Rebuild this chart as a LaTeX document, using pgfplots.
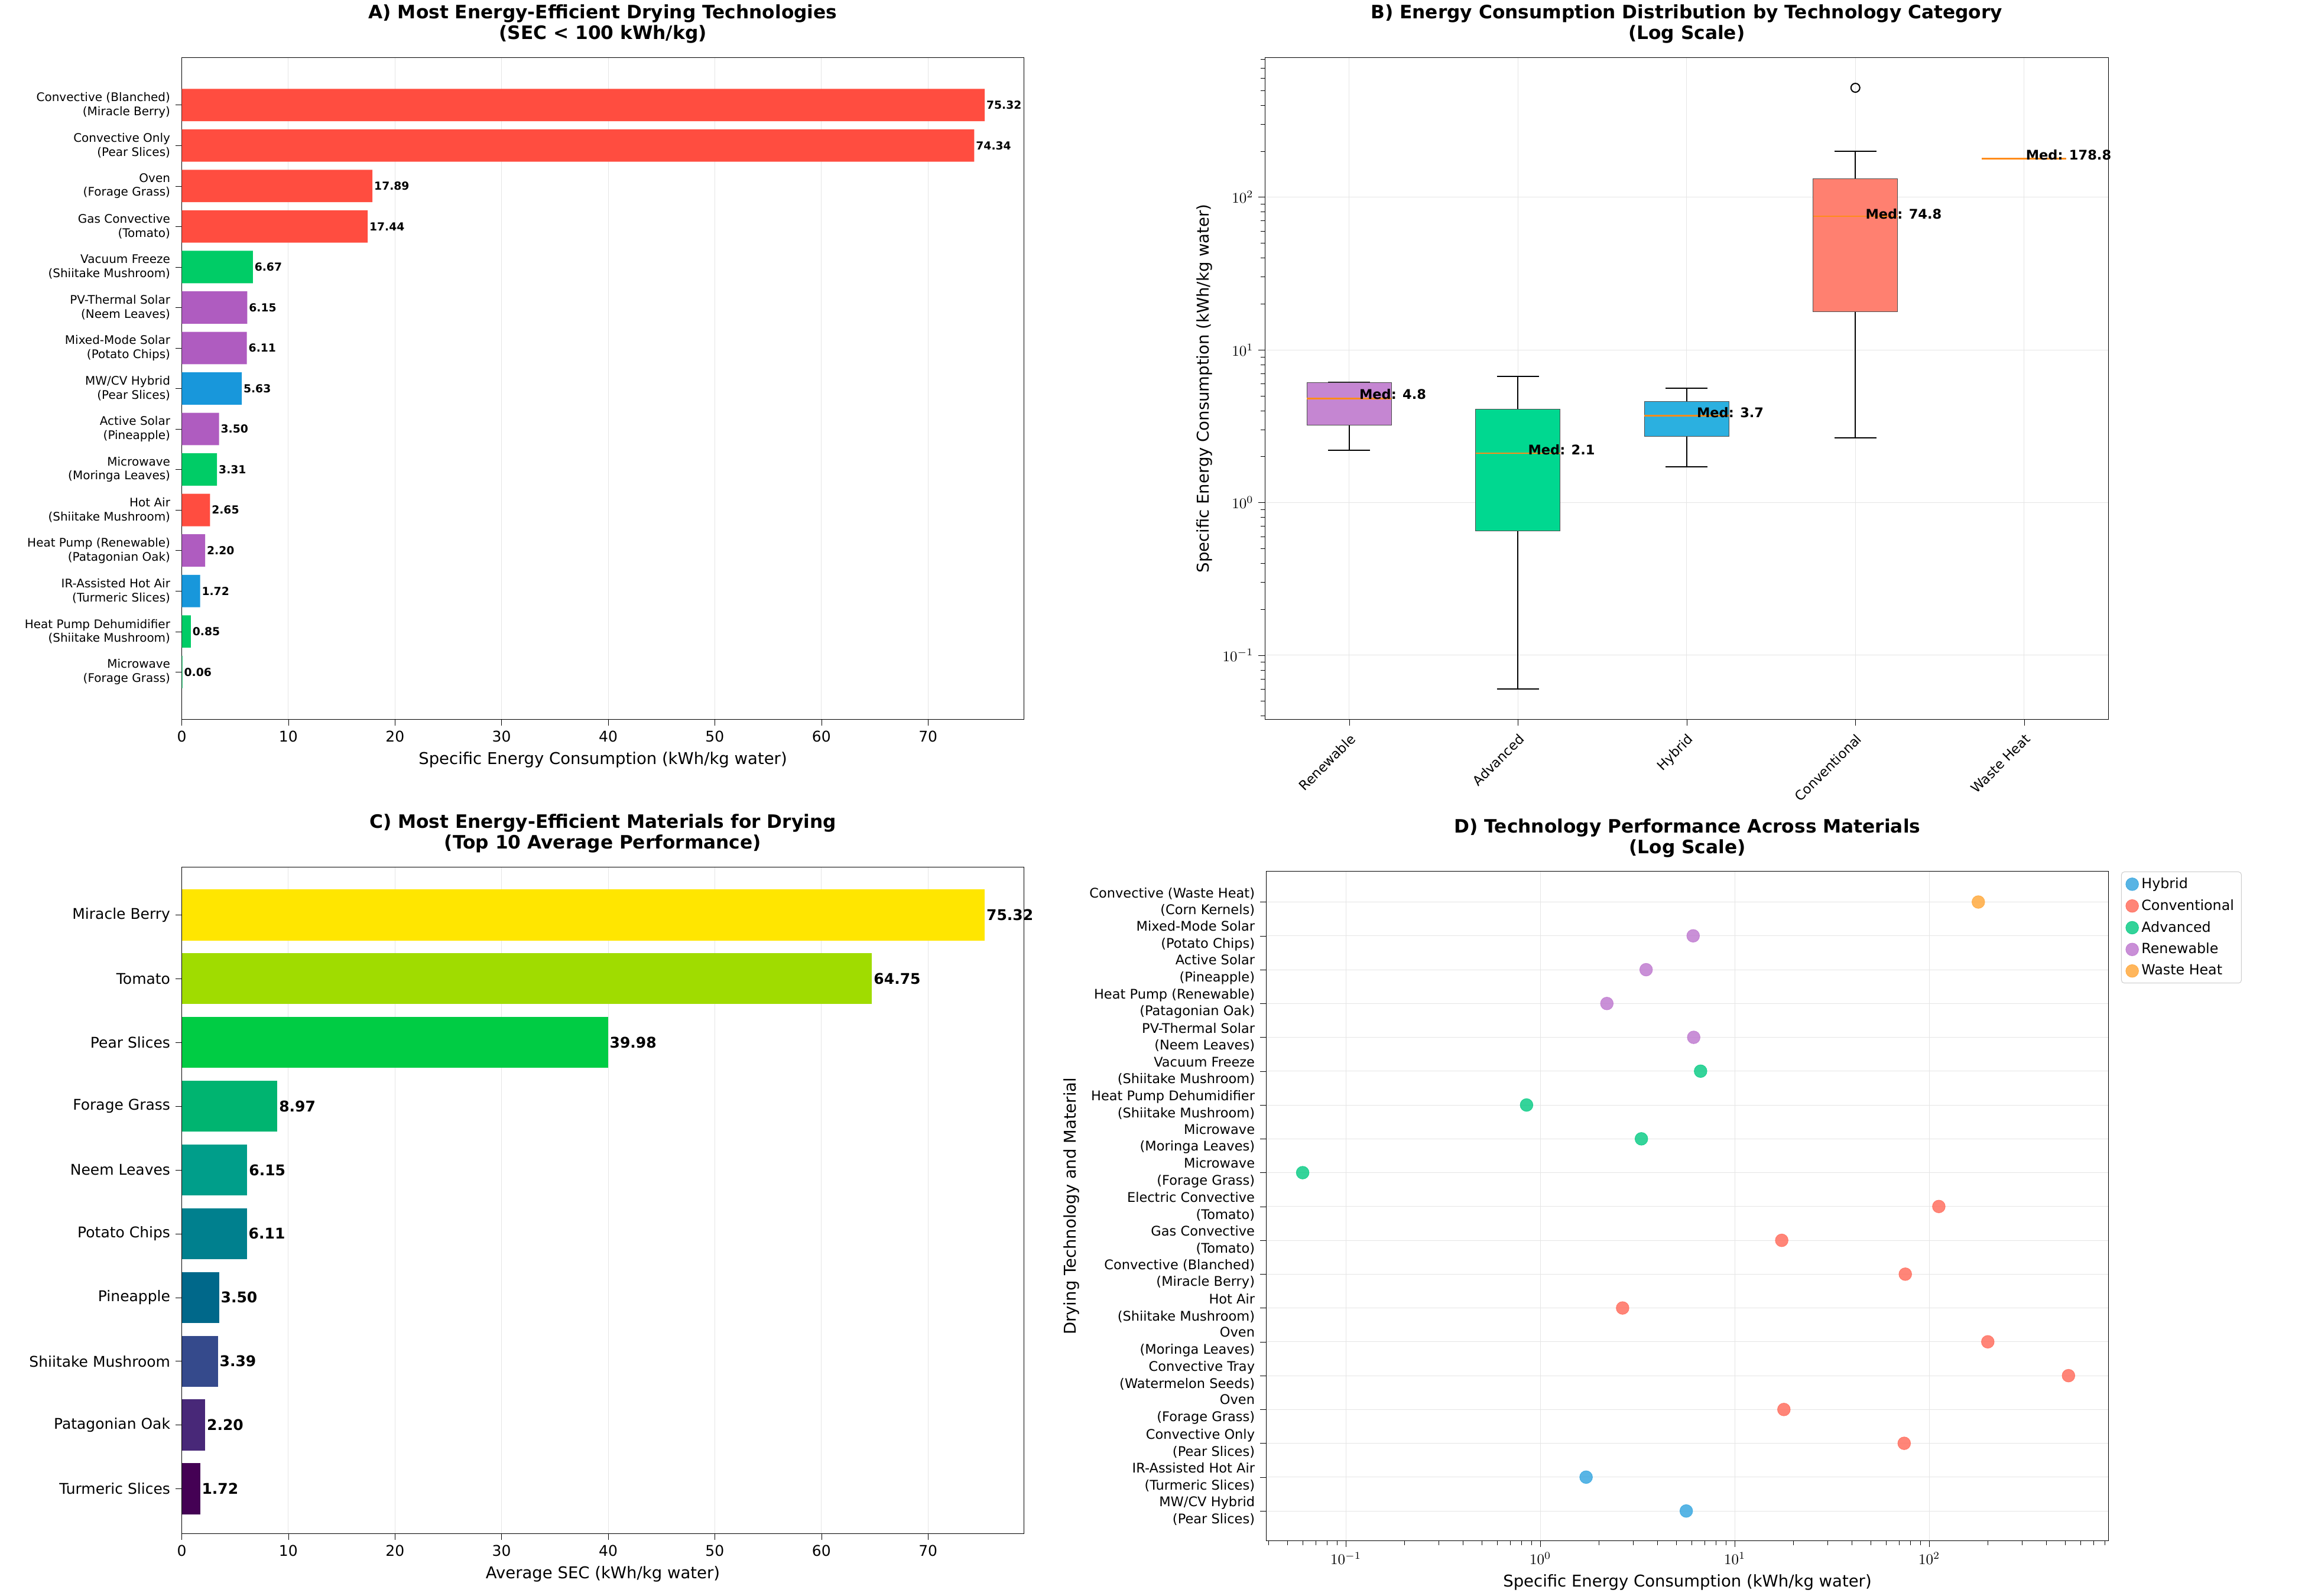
\documentclass[border=0pt]{standalone}
\usepackage{pgfplots}
\pgfplotsset{compat=1.18}
\usepackage{fontspec}
\setmainfont{DejaVu Sans}
\definecolor{cRed}{HTML}{FF4D40}
\definecolor{cGreen}{HTML}{00CC66}
\definecolor{cPurple}{HTML}{AF5CC0}
\definecolor{cBlue}{HTML}{1897DB}
\definecolor{bRen}{HTML}{C586D2}
\definecolor{bAdv}{HTML}{00D890}
\definecolor{bHyb}{HTML}{2BB0E0}
\definecolor{bCon}{HTML}{FF8070}
\definecolor{medc}{HTML}{FF8C1A}
\definecolor{dHyb}{HTML}{3BA8E0}
\definecolor{dCon}{HTML}{FF7060}
\definecolor{dAdv}{HTML}{10CC88}
\definecolor{dRen}{HTML}{C07CD0}
\definecolor{dWas}{HTML}{FFAA40}
% box: #1 pos, #2 lw, #3 lq, #4 med, #5 uq, #6 uw, #7 colour
\newcommand{\mybox}[7]{%
  \addplot[black, thick, mark=none] coordinates {(#1,#2) (#1,#3)};
  \addplot[black, thick, mark=none] coordinates {(#1,#5) (#1,#6)};
  \addplot[black, thick, mark=none] coordinates {(#1-0.125,#2) (#1+0.125,#2)};
  \addplot[black, thick, mark=none] coordinates {(#1-0.125,#6) (#1+0.125,#6)};
  \addplot[fill=#7, draw=black!70, mark=none] coordinates {(#1-0.25,#3) (#1+0.25,#3) (#1+0.25,#5) (#1-0.25,#5)} --cycle;
  \addplot[medc, line width=1pt, mark=none] coordinates {(#1-0.25,#4) (#1+0.25,#4)};
}
\newcommand{\twodec}{\pgfmathprintnumber[fixed,fixed zerofill,precision=2]{\pgfplotspointmeta}}
\pgfplotsset{
  base/.style={scale only axis, anchor=south west, axis line style={black},
    grid=major, major grid style={gray!20}, tick align=outside,
    xtick pos=bottom, ytick pos=left, tick style={black},
    ticklabel style={font=\fontsize{10}{11}\selectfont},
    label style={font=\fontsize{11}{12}\selectfont},
    title style={font=\bfseries\fontsize{12.5}{14}\selectfont, align=center},
    /pgf/number format/assume math mode=true, clip=false},
}
\begin{document}
\begin{tikzpicture}
\useasboundingbox (0,0) rectangle (1568.8pt,1080pt);
% Panel A
\begin{axis}[base, at={(123pt,593pt)}, width=570pt, height=448pt,
  title={A) Most Energy-Efficient Drying Technologies\\(SEC < 100 kWh/kg)},
  xbar, bar width=0.8, bar shift=0pt, xmin=0, xmax=79, ymin=-1.17, ymax=15.17,
  xtick={0,10,...,70}, ytick={0,...,14}, ymajorgrids=false,
  yticklabel style={align=right, font=\fontsize{8}{9.5}\selectfont},
  yticklabels={{Microwave\\(Forage Grass)},{Heat Pump Dehumidifier\\(Shiitake Mushroom)},{IR-Assisted Hot Air\\(Turmeric Slices)},{Heat Pump (Renewable)\\(Patagonian Oak)},{Hot Air\\(Shiitake Mushroom)},{Microwave\\(Moringa Leaves)},{Active Solar\\(Pineapple)},{MW/CV Hybrid\\(Pear Slices)},{Mixed-Mode Solar\\(Potato Chips)},{PV-Thermal Solar\\(Neem Leaves)},{Vacuum Freeze\\(Shiitake Mushroom)},{Gas Convective\\(Tomato)},{Oven\\(Forage Grass)},{Convective Only\\(Pear Slices)},{Convective (Blanched)\\(Miracle Berry)}},
  xlabel={Specific Energy Consumption (kWh/kg water)},
  point meta=x, nodes near coords={\twodec}, nodes near coords align={horizontal},
  every node near coord/.append style={font=\bfseries\fontsize{7.5}{8}\selectfont, black, inner sep=1pt}]
\addplot[fill=cRed, draw=none] coordinates {(2.65,4) (17.44,11) (17.89,12) (74.34,13) (75.32,14)};
\addplot[fill=cGreen, draw=none] coordinates {(0.06,0) (0.85,1) (3.31,5) (6.67,10)};
\addplot[fill=cBlue, draw=none] coordinates {(1.72,2) (5.63,7)};
\addplot[fill=cPurple, draw=none] coordinates {(2.20,3) (3.50,6) (6.11,8) (6.15,9)};
\end{axis}
% Panel B
\begin{axis}[base, at={(856pt,593pt)}, width=571pt, height=448pt,
  title={B) Energy Consumption Distribution by Technology Category\\(Log Scale)},
  ymode=log, ymin=0.038, ymax=820, xmin=0.5, xmax=5.5, xtick={1,...,5},
  xticklabels={Renewable,Advanced,Hybrid,Conventional,Waste Heat},
  xticklabel style={rotate=45, anchor=north east, font=\fontsize{9}{10}\selectfont},
  ylabel={Specific Energy Consumption (kWh/kg water)}]
\mybox{1}{2.2}{3.2}{4.8}{6.1}{6.15}{bRen}
\mybox{2}{0.06}{0.65}{2.1}{4.1}{6.67}{bAdv}
\mybox{3}{1.72}{2.7}{3.7}{4.6}{5.63}{bHyb}
\mybox{4}{2.65}{17.8}{74.8}{132}{200}{bCon}
\addplot[only marks, mark=o, mark size=3pt, black, thick] coordinates {(4,520)};
\addplot[medc, line width=1pt, mark=none] coordinates {(4.75,178.8) (5.25,178.8)};
\node[font=\bfseries\fontsize{9}{10}\selectfont, anchor=south west, inner sep=1pt] at (axis cs:1.05,4.6) {Med: 4.8};
\node[font=\bfseries\fontsize{9}{10}\selectfont, anchor=south west, inner sep=1pt] at (axis cs:2.05,2.0) {Med: 2.1};
\node[font=\bfseries\fontsize{9}{10}\selectfont, anchor=south west, inner sep=1pt] at (axis cs:3.05,3.5) {Med: 3.7};
\node[font=\bfseries\fontsize{9}{10}\selectfont, anchor=south west, inner sep=1pt] at (axis cs:4.05,70) {Med: 74.8};
\node[font=\bfseries\fontsize{9}{10}\selectfont, anchor=south west, inner sep=1pt] at (axis cs:5.0,170) {Med: 178.8};
\end{axis}
% Panel C
\begin{axis}[base, at={(123pt,42pt)}, width=570pt, height=451pt,
  title={C) Most Energy-Efficient Materials for Drying\\(Top 10 Average Performance)},
  xbar, bar width=0.8, bar shift=0pt, xmin=0, xmax=79, ymin=-0.7, ymax=9.75,
  xtick={0,10,...,70}, ytick={0,...,9}, ymajorgrids=false,
  yticklabels={Turmeric Slices,Patagonian Oak,Shiitake Mushroom,Pineapple,Potato Chips,Neem Leaves,Forage Grass,Pear Slices,Tomato,Miracle Berry},
  xlabel={Average SEC (kWh/kg water)},
  point meta=x, nodes near coords={\twodec}, nodes near coords align={horizontal},
  every node near coord/.append style={font=\bfseries\fontsize{10}{11}\selectfont, black, inner sep=1pt}]
\addplot[fill={rgb,255:red,68;green,1;blue,84}, draw=none] coordinates {(1.72,0)};
\addplot[fill={rgb,255:red,72;green,40;blue,120}, draw=none] coordinates {(2.20,1)};
\addplot[fill={rgb,255:red,53;green,74;blue,140}, draw=none] coordinates {(3.39,2)};
\addplot[fill={rgb,255:red,0;green,104;blue,138}, draw=none] coordinates {(3.50,3)};
\addplot[fill={rgb,255:red,0;green,128;blue,142}, draw=none] coordinates {(6.11,4)};
\addplot[fill={rgb,255:red,0;green,158;blue,138}, draw=none] coordinates {(6.15,5)};
\addplot[fill={rgb,255:red,0;green,180;blue,112}, draw=none] coordinates {(8.97,6)};
\addplot[fill={rgb,255:red,0;green,204;blue,68}, draw=none] coordinates {(39.98,7)};
\addplot[fill={rgb,255:red,160;green,220;blue,0}, draw=none] coordinates {(64.75,8)};
\addplot[fill={rgb,255:red,255;green,230;blue,0}, draw=none] coordinates {(75.32,9)};
\end{axis}
% Panel D
\begin{axis}[base, at={(857pt,37pt)}, width=570pt, height=453pt,
  title={D) Technology Performance Across Materials\\(Log Scale)},
  xmode=log, xmin=0.039, xmax=835, ymin=-0.88, ymax=18.9, ytick={0,...,18},
  yticklabel style={align=right, font=\fontsize{9}{11.5}\selectfont},
  yticklabels={{MW/CV Hybrid\\(Pear Slices)},{IR-Assisted Hot Air\\(Turmeric Slices)},{Convective Only\\(Pear Slices)},{Oven\\(Forage Grass)},{Convective Tray\\(Watermelon Seeds)},{Oven\\(Moringa Leaves)},{Hot Air\\(Shiitake Mushroom)},{Convective (Blanched)\\(Miracle Berry)},{Gas Convective\\(Tomato)},{Electric Convective\\(Tomato)},{Microwave\\(Forage Grass)},{Microwave\\(Moringa Leaves)},{Heat Pump Dehumidifier\\(Shiitake Mushroom)},{Vacuum Freeze\\(Shiitake Mushroom)},{PV-Thermal Solar\\(Neem Leaves)},{Heat Pump (Renewable)\\(Patagonian Oak)},{Active Solar\\(Pineapple)},{Mixed-Mode Solar\\(Potato Chips)},{Convective (Waste Heat)\\(Corn Kernels)}},
  xlabel={Specific Energy Consumption (kWh/kg water)},
  ylabel={Drying Technology and Material},
  legend style={at={(1.015,1)}, anchor=north west, font=\fontsize{9.5}{11}\selectfont, draw=gray!40, rounded corners=2pt, row sep=2pt},
  legend cell align=left]
\addplot[only marks, mark=*, mark size=4.3pt, dHyb, opacity=0.85] coordinates {(5.63,0) (1.72,1)};
\addplot[only marks, mark=*, mark size=4.3pt, dCon, opacity=0.85] coordinates {(74.34,2) (17.89,3) (520,4) (200,5) (2.65,6) (75.32,7) (17.44,8) (112,9)};
\addplot[only marks, mark=*, mark size=4.3pt, dAdv, opacity=0.85] coordinates {(0.06,10) (3.31,11) (0.85,12) (6.67,13)};
\addplot[only marks, mark=*, mark size=4.3pt, dRen, opacity=0.85] coordinates {(6.15,14) (2.20,15) (3.50,16) (6.11,17)};
\addplot[only marks, mark=*, mark size=4.3pt, dWas, opacity=0.85] coordinates {(178.8,18)};
\legend{Hybrid,Conventional,Advanced,Renewable,Waste Heat}
\end{axis}
\end{tikzpicture}
\end{document}
